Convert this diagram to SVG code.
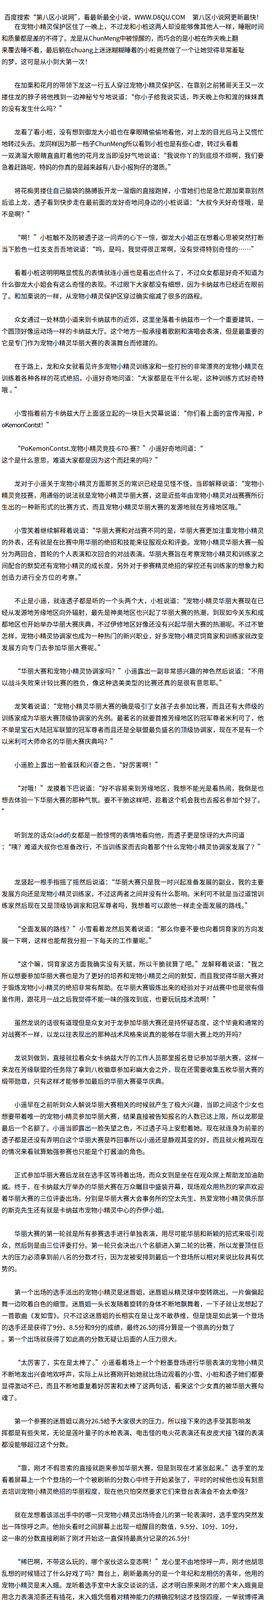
<svg xmlns="http://www.w3.org/2000/svg" width="700" height="4340" viewBox="0 0 700 4340">
<style>
.t{font-family:"Noto Sans CJK SC","Noto Sans",sans-serif;font-size:16.4px;fill:#000}
</style>
<rect width="700" height="4340" fill="#fff"/>
<g id="header-top">
<text class="t" x="11" y="49.5" textLength="464" lengthAdjust="spacing">百度搜索“第八区小说网”，看最新最全小说，WWW.D8QU.COM</text>
<text class="t" x="493" y="49.5" textLength="180" lengthAdjust="spacing">第八区小说网更新最快！</text>
</g>
<g id="p01">
<text class="t" x="36.8" y="74.3" textLength="639.6" lengthAdjust="spacing">在宠物小精灵保护区住了一晚上，不过龙和小桩这两人却没能够像其他人一样，睡眠时间</text>
<text class="t" x="4" y="104.3" textLength="606.8" lengthAdjust="spacing">和质量都是差的不得了。龙是从ChunMeng中被惊醒的，而巧合的是小桩在昨天晚上翻</text>
<text class="t" x="4" y="134.3" textLength="623.2" lengthAdjust="spacing">来覆去睡不着，最后躺在chuang上迷迷糊糊睡着的小桩竟然做了一个让她觉得非常羞耻</text>
<text class="t" x="4" y="164.3" textLength="229.6" lengthAdjust="spacing">的梦，这可是从小到大第一次！</text>
</g>
<g id="p02">
<text class="t" x="36.8" y="224.3" textLength="639.6" lengthAdjust="spacing">在加栗和花月的带领下龙这一行五人穿过宠物小精灵保护区，在靠别之前猪哥天王又一次</text>
<text class="t" x="4" y="254.3" textLength="672.4" lengthAdjust="spacing">搂住龙的脖子将他拽到一边神秘兮兮地说道：“你小子给我说实话，昨天晚上你和渡的妹妹真</text>
<text class="t" x="4" y="284.3" textLength="164" lengthAdjust="spacing">的没有发生什么吗？”</text>
</g>
<g id="p03">
<text class="t" x="36.8" y="344.3" textLength="639.6" lengthAdjust="spacing">龙看了看小桩，没有想到御龙大小姐也在拿眼睛偷偷地看他，对上龙的目光后马上又慌忙</text>
<text class="t" x="4" y="374.3" textLength="606.8" lengthAdjust="spacing">地转过头去。龙同样因为那一档子ChunMeng所以看到小桩也是有些心虚，转过头看着</text>
<text class="t" x="4" y="404.3" textLength="672.4" lengthAdjust="spacing">一双滴溜大眼睛直直盯着他的花月龙当即没好气地说道：“我说你丫的到底烦不烦啊，我们要</text>
<text class="t" x="4" y="434.3" textLength="442.8" lengthAdjust="spacing">急着赶路呢，特妈的你真的是越来越有八卦小报狗仔的潜质。”</text>
</g>
<g id="p04">
<text class="t" x="36.8" y="494.3" textLength="639.6" lengthAdjust="spacing">将花痴男搂住自己脑袋的胳膊扳开龙一溜烟的直接跑掉，小雪她们也是急忙跟加栗靠别然</text>
<text class="t" x="4" y="524.3" textLength="672.4" lengthAdjust="spacing">后追上龙，透子看到快步走在最前面的龙好奇地问身边的小桩说道：“大叔今天好奇怪哦，是</text>
<text class="t" x="4" y="554.3" textLength="82" lengthAdjust="spacing">不是啊？”</text>
</g>
<g id="p05">
<text class="t" x="36.8" y="614.3" textLength="639.6" lengthAdjust="spacing">“啊！”小桩触不及防被透子这一问弄的心下一惊，御龙大小姐正在想着心思被突然打断</text>
<text class="t" x="4" y="644.3" textLength="656" lengthAdjust="spacing">当下脸色一红支支吾吾地说道：“呜，是吗，我觉得很正常啊，没有觉得特别奇怪的……”</text>
</g>
<g id="p06">
<text class="t" x="36.8" y="704.3" textLength="639.6" lengthAdjust="spacing">看着小桩这明明略显慌乱的表情就连小遥也是看出点什么了，不过众女都是好奇不知道为</text>
<text class="t" x="4" y="734.3" textLength="672.4" lengthAdjust="spacing">什么御龙大小姐会有这么奇怪的表现。不过眼下大家都没有细想，因为卡纳兹市已经近在眼前</text>
<text class="t" x="4" y="764.3" textLength="524.8" lengthAdjust="spacing">了。和加栗说的一样，从宠物小精灵保护区穿过确实缩减了很多的路程。</text>
</g>
<g id="p07">
<text class="t" x="36.8" y="824.3" textLength="639.6" lengthAdjust="spacing">众女通过一处林荫小道来到卡纳兹市的近郊，这里坐落着卡纳兹市一个一个重要建筑，一</text>
<text class="t" x="4" y="854.3" textLength="672.4" lengthAdjust="spacing">个圆顶好像运动场一样的卡纳兹大厅。这个地方一般承接着歌剧和演唱会表演，但是最重要的</text>
<text class="t" x="4" y="884.3" textLength="410" lengthAdjust="spacing">它是专门作为宠物小精灵华丽大赛的表演舞台而修建的。</text>
</g>
<g id="p08">
<text class="t" x="36.8" y="944.3" textLength="639.6" lengthAdjust="spacing">在于路上，龙和众女就看见许多宠物小精灵训练家和一些打扮的非常漂亮的宠物小精灵在</text>
<text class="t" x="4" y="974.3" textLength="672.4" lengthAdjust="spacing">训练着各种各样的花式绝招，小遥好奇地问道：“大家都是在干什么呢，这种训练方式好奇特</text>
<text class="t" x="4" y="1004.3" textLength="49.2" lengthAdjust="spacing">哦。”</text>
</g>
<g id="p09">
<text class="t" x="36.8" y="1064.3" textLength="636" lengthAdjust="spacing">小雪指着前方卡纳兹大厅上面竖立起的一块巨大荧幕说道：“你们看上面的宣传海报，P</text>
<text class="t" x="4" y="1094.3" textLength="131.2" lengthAdjust="spacing">oKemonContst！”</text>
</g>
<g id="p10">
<text class="t" x="36.8" y="1154.3" textLength="483.8" lengthAdjust="spacing">“PoKemonContst.宠物小精灵竞技-670-赛？”小遥好奇地问道：“</text>
<text class="t" x="4" y="1184.3" textLength="410" lengthAdjust="spacing">这个是什么意思，难道大家都是因为这个而赶来的吗？”</text>
</g>
<g id="p11">
<text class="t" x="36.8" y="1244.3" textLength="639.6" lengthAdjust="spacing">龙对于小遥关于宠物小精灵方面那贫乏的常识已经是见怪不怪，当即解释说道：“宠物小</text>
<text class="t" x="4" y="1274.3" textLength="672.4" lengthAdjust="spacing">精灵竞技赛，用通俗的说法就是宠物小精灵华丽大赛，这是近些年由宠物小精灵对战赛赛所衍</text>
<text class="t" x="4" y="1304.3" textLength="623.2" lengthAdjust="spacing">生出的一种新形式的比赛方式，而且宠物小精灵华丽大赛的发源地就在芳缘地区哦。”</text>
</g>
<g id="p12">
<text class="t" x="36.8" y="1364.3" textLength="639.6" lengthAdjust="spacing">小雪笑着继续解释着说道：“华丽大赛和对战赛不同的是，华丽大赛更加注重宠物小精灵</text>
<text class="t" x="4" y="1394.3" textLength="672.4" lengthAdjust="spacing">的外表，还有就是在比赛中用华丽的绝招和技能来征服观众和评委。宠物小精灵华丽大赛一般</text>
<text class="t" x="4" y="1424.3" textLength="672.4" lengthAdjust="spacing">分为两回合，首轮的个人表演和次回合的对战表演。华丽大赛旨在考察宠物小精灵和训练家之</text>
<text class="t" x="4" y="1454.3" textLength="672.4" lengthAdjust="spacing">间配合的默契还有宠物小精灵的成长度，另外对于参赛精灵绝招的掌控还有训练家的想象力和</text>
<text class="t" x="4" y="1484.3" textLength="213.2" lengthAdjust="spacing">创造力进行全方位的考察。”</text>
</g>
<g id="p13">
<text class="t" x="36.8" y="1544.3" textLength="639.6" lengthAdjust="spacing">不止是小遥，就连透子都是听的一个头两个大，小桩说道：“宠物小精灵华丽大赛现在已</text>
<text class="t" x="4" y="1574.3" textLength="672.4" lengthAdjust="spacing">经从发源地芳缘地区向外辐射，最先是神奥地区也兴起了华丽大赛的热潮，到现如今关东和成</text>
<text class="t" x="4" y="1604.3" textLength="672.4" lengthAdjust="spacing">都地区也开始举办华丽大赛庆典，不过伊修地区好像还没有兴起华丽大赛的热潮呢。不过不管</text>
<text class="t" x="4" y="1634.3" textLength="672.4" lengthAdjust="spacing">怎样，宠物小精灵协调家也成为一种热门的新兴职业，好多宠物小精灵饲育家和训练家就改变</text>
<text class="t" x="4" y="1664.3" textLength="262.4" lengthAdjust="spacing">发展方向专门去参加华丽大赛呢。”</text>
</g>
<g id="p14">
<text class="t" x="36.8" y="1724.3" textLength="639.6" lengthAdjust="spacing">“华丽大赛和宠物小精灵协调家吗？”小遥露出一副非常感兴趣的神色然后说道：“不用</text>
<text class="t" x="4" y="1754.3" textLength="574" lengthAdjust="spacing">以战斗失败来计较比赛的胜负，像这种选美类型的比赛还真的是很有意思耶。”</text>
</g>
<g id="p15">
<text class="t" x="36.8" y="1814.3" textLength="639.6" lengthAdjust="spacing">龙笑着说道：“宠物小精灵华丽大赛的确是吸引了女孩子去参加比赛，而且还有大师级的</text>
<text class="t" x="4" y="1844.3" textLength="672.4" lengthAdjust="spacing">训练家成为华丽大赛顶级协调家的先例。最著名的就要首推芳缘地区的冠军尊者米利可了，他</text>
<text class="t" x="4" y="1874.3" textLength="672.4" lengthAdjust="spacing">不单是宝石大陆冠军联盟的冠军尊者而且还是全联盟最负盛名的顶级协调家，现在不是有一个</text>
<text class="t" x="4" y="1904.3" textLength="295.2" lengthAdjust="spacing">以米利可大师命名的华丽大赛庆典吗？”</text>
</g>
<g id="p16">
<text class="t" x="36.8" y="1964.3" textLength="377.2" lengthAdjust="spacing">小遥脸上露出一脸雀跃和兴奋之色，“好厉害啊！”</text>
</g>
<g id="p17">
<text class="t" x="36.8" y="2024.3" textLength="639.6" lengthAdjust="spacing">“对哦！”龙摸着下巴说道：“好不容易来到芳缘地区，我想不能光是看热闹，我倒是也</text>
<text class="t" x="4" y="2054.3" textLength="672.4" lengthAdjust="spacing">想去体验一下华丽大赛的那种气氛。要不干脆这样吧，趁着这个机会我也去报名参加个好了。</text>
<text class="t" x="4" y="2084.3">”</text>
</g>
<g id="p18">
<text class="t" x="36.8" y="2144.3" textLength="590.4" lengthAdjust="spacing">听到龙的话众(addf)女都是一脸惊愕的表情地看向他，而透子更是惊讶的大声问道</text>
<text class="t" x="4" y="2174.3" textLength="672.4" lengthAdjust="spacing">：“咦？难道大叔你也准备改行，不当训练家而去向着那个什么宠物小精灵协调家发展了？”</text>
</g>
<g id="p19">
<text class="t" x="36.8" y="2264.3" textLength="639.6" lengthAdjust="spacing">龙竖起一根手指摇了摇然后说道：“华丽大赛只是我一时兴起准备发展的副业，我的主要</text>
<text class="t" x="4" y="2294.3" textLength="672.4" lengthAdjust="spacing">发展方向还是宠物小精灵训练家，不过这两者之间并没有什么影响。米利可不就是当过道馆训</text>
<text class="t" x="4" y="2324.3" textLength="639.6" lengthAdjust="spacing">练家然后现在又是顶级协调家和冠军尊者吗，我想着可以跟他一样走全面发展的路线。”</text>
</g>
<g id="p20">
<text class="t" x="36.8" y="2384.3" textLength="639.6" lengthAdjust="spacing">“全面发展的路线？”小雪看着龙然后笑着说道：“那么你要不要也向着饲育家的方向发</text>
<text class="t" x="4" y="2414.3" textLength="393.6" lengthAdjust="spacing">展一下啊，这样也能帮我分担一下每天的工作量呢。”</text>
</g>
<g id="p21">
<text class="t" x="36.8" y="2474.3" textLength="639.6" lengthAdjust="spacing">“这个嘛，饲育家这方面我确实没有天赋，所以干脆就算了吧。”龙解释着说道：“我之</text>
<text class="t" x="4" y="2504.3" textLength="672.4" lengthAdjust="spacing">所以想要参加华丽大赛也是为了更好的培养和宠物小精灵之间的默契，而且我觉得华丽大赛对</text>
<text class="t" x="4" y="2534.3" textLength="672.4" lengthAdjust="spacing">于锻炼宠物小小精灵的绝招非常有帮助。在华丽大赛锻炼出来的经验对于对战赛中也是很有借</text>
<text class="t" x="4" y="2564.3" textLength="557.6" lengthAdjust="spacing">鉴作用，跟花月一战之后我觉得不能一味的强攻到底，也要玩玩技术流啊！”</text>
</g>
<g id="p22">
<text class="t" x="36.8" y="2624.3" textLength="639.6" lengthAdjust="spacing">虽然龙说的话很有道理但是众女对于龙参加华丽大赛还是持怀疑态度，这个毕竟和通常的</text>
<text class="t" x="4" y="2654.3" textLength="623.2" lengthAdjust="spacing">对战赛不一样，以龙以往表现出的那种战术风格来说真的能够在华丽大赛上吃的开吗？</text>
</g>
<g id="p23">
<text class="t" x="36.8" y="2714.3" textLength="639.6" lengthAdjust="spacing">龙说到做到，直接就拉着众女卡纳兹大厅的工作人员那里报名登记参加华丽大赛，这样一</text>
<text class="t" x="4" y="2744.3" textLength="672.4" lengthAdjust="spacing">来龙在芳缘联盟的任务除了拿到八枚徽章参加彩幽大会之外，现在还需要收集五枚华丽大赛的</text>
<text class="t" x="4" y="2774.3" textLength="426.4" lengthAdjust="spacing">缎带勋章，只有这样才能够参加最后的华丽大赛豪华庆典。</text>
</g>
<g id="p24">
<text class="t" x="36.8" y="2834.3" textLength="639.6" lengthAdjust="spacing">小遥早在之前听到众人解说华丽大赛相关的时候就产生了极大兴趣，当即之间这个少女也</text>
<text class="t" x="4" y="2864.3" textLength="672.4" lengthAdjust="spacing">想要带着唯一的宠物小精灵参加华丽大赛，结果直接被告知报名的人数已达上限，所以龙那是</text>
<text class="t" x="4" y="2894.3" textLength="672.4" lengthAdjust="spacing">最后一个名额了。小遥当即露出一脸失望之色，不过透子马上安慰着她。现在就连身为前辈的</text>
<text class="t" x="4" y="2924.3" textLength="672.4" lengthAdjust="spacing">透子都是还没有弄明白这个华丽大赛是咋回事所以小遥还是静观其变的好，而且就火稚鸡现在</text>
<text class="t" x="4" y="2954.3" textLength="377.2" lengthAdjust="spacing">的情况来看就算勉强参赛也只能是个打酱油的角色。</text>
</g>
<g id="p25">
<text class="t" x="36.8" y="3014.3" textLength="639.6" lengthAdjust="spacing">正式参加华丽大赛后龙就在选手区等待着出场，而众女则是坐在在观众席上帮助龙加油助</text>
<text class="t" x="4" y="3044.3" textLength="672.4" lengthAdjust="spacing">威。终于，在卡纳兹大厅举办的华丽大赛在万众瞩目中盛装开幕，现场观众用热烈的掌声欢迎</text>
<text class="t" x="4" y="3074.3" textLength="672.4" lengthAdjust="spacing">着华丽大赛的三位评委出场，分别是华丽大赛大会事务所的空太先生、热爱宠物小精灵俱乐部</text>
<text class="t" x="4" y="3104.3" textLength="426.4" lengthAdjust="spacing">的斯克先生还有就是卡纳兹市宠物小精灵中心的乔伊小姐。</text>
</g>
<g id="p26">
<text class="t" x="36.8" y="3164.3" textLength="639.6" lengthAdjust="spacing">华丽大赛的第一轮就是所有参赛选手进行单独表演，用尽可能华丽和新颖的招式来吸引观</text>
<text class="t" x="4" y="3194.3" textLength="672.4" lengthAdjust="spacing">众，然后则是由三位评委打分。第一轮只会决出八个名额进入第二轮的比赛，所以龙要顶住巨</text>
<text class="t" x="4" y="3224.3" textLength="672.4" lengthAdjust="spacing">大的压力必须拿到前八名的分数才行，因为龙被安排到最后一个登场所以相对来说比较具有优</text>
<text class="t" x="4" y="3254.3" textLength="49.2" lengthAdjust="spacing">势的。</text>
</g>
<g id="p27">
<text class="t" x="36.8" y="3314.3" textLength="639.6" lengthAdjust="spacing">第一个出场的选手派出的宠物小精灵是迷唇姐，迷唇姐从精灵球中旋转跳出，一片偏偏起</text>
<text class="t" x="4" y="3344.3" textLength="672.4" lengthAdjust="spacing">舞一边吹着白色的细雪。迷唇姐一头长发随着旋转的身体不断地飘舞着，一下子就让龙想起了</text>
<text class="t" x="4" y="3374.3" textLength="672.4" lengthAdjust="spacing">一首歌曲《发如雪》。只不过这迷唇姐的长相实在是让龙不敢恭维，但是饶是如此第一个登场</text>
<text class="t" x="4" y="3404.3" textLength="598.6" lengthAdjust="spacing">的选手还是获得了9分、8.5分和9分的成绩，最终26.5的得分算是一个很高的分数了</text>
<text class="t" x="4" y="3434.3" textLength="459.2" lengthAdjust="spacing">。第一个出场就获得了如此高的分数无疑让后面的人压力很大。</text>
</g>
<g id="p28">
<text class="t" x="36.8" y="3494.3" textLength="639.6" lengthAdjust="spacing">“太厉害了，实在是太棒了。”小遥看着场上一个个粉墨登场进行华丽表演的宠物小精灵</text>
<text class="t" x="4" y="3524.3" textLength="672.4" lengthAdjust="spacing">不断地发出兴奋地欢呼声，实际上从比赛刚开始她就比场边观看的小雪、小桩和透子她们都要</text>
<text class="t" x="4" y="3554.3" textLength="672.4" lengthAdjust="spacing">显得激动不已，而且不断地重复着好厉害和太棒了这两句话，看来这个少女真的被华丽大赛勾</text>
<text class="t" x="4" y="3584.3" textLength="49.2" lengthAdjust="spacing">魂了。</text>
</g>
<g id="p29">
<text class="t" x="36.8" y="3644.3" textLength="606.8" lengthAdjust="spacing">第一个参赛的迷唇姐以高分26.5给予大家很大的压力，所以接下来的选手受其影响发</text>
<text class="t" x="4" y="3674.3" textLength="672.4" lengthAdjust="spacing">挥都是有些失常，无论是莲叶童子的水枪表演、电击怪的电火花表演还有皮皮犬接飞碟的表演</text>
<text class="t" x="4" y="3704.3" textLength="180.4" lengthAdjust="spacing">都没能够超过这个分数。</text>
</g>
<g id="p30">
<text class="t" x="36.8" y="3764.3" textLength="639.6" lengthAdjust="spacing">“靠，刚才不假思索的直接就跑来参加华丽大赛，但是到现在才紧张起来。”选手室的龙</text>
<text class="t" x="4" y="3794.3" textLength="672.4" lengthAdjust="spacing">看着屏幕上一个个登场的一个个被刷新的分数心中终于开始紧张了，平时的时候他也没有刻意</text>
<text class="t" x="4" y="3824.3" textLength="639.6" lengthAdjust="spacing">去培训宠物小精灵绝招的华丽程度，现在他只怕突然要求它们来登台表演会不会太牵强？</text>
</g>
<g id="p31">
<text class="t" x="36.8" y="3884.3" textLength="639.6" lengthAdjust="spacing">就在龙想着该派出手中的哪一只宠物小精灵出场待会儿的第一轮表演时，选手室内突然发</text>
<text class="t" x="4" y="3914.3" textLength="615" lengthAdjust="spacing">出一阵惊呼之声。他抬头看时之间屏幕上出现一组醒目的数值，9.5分、10分、10分，</text>
<text class="t" x="4" y="3944.3" textLength="492" lengthAdjust="spacing">这一串的分数直接刷新了刚才开始这一直保持最高分记录的26.5分！</text>
</g>
<g id="p32">
<text class="t" x="36.8" y="4004.3" textLength="639.6" lengthAdjust="spacing">“稀巴啊，不带这么玩的，哪个家伙这么变态啊！”龙心里不由地惊呼一声，刚才他胡思</text>
<text class="t" x="4" y="4034.3" textLength="672.4" lengthAdjust="spacing">乱想的时候错过了什么好戏了吗？舞台上，刷新最高分的是一个年纪和龙相仿的青年，他用的</text>
<text class="t" x="4" y="4064.3" textLength="672.4" lengthAdjust="spacing">宠物小精灵是末入蛾。龙听着选手室中大家交谈说的话，这才明白原来刚才的那个末入蛾竟是</text>
<text class="t" x="4" y="4094.3" textLength="672.4" lengthAdjust="spacing">用念力表演沏茶还有插花，末入蛾凭借着对精神能力的精确控制这才技惊四座，一举就博得满</text>
<text class="t" x="4" y="4124.3" textLength="196.8" lengthAdjust="spacing">堂喝彩拿下了29.5的高分。</text>
</g>
<g id="p33">
<text class="t" x="36.8" y="4184.3" textLength="639.6" lengthAdjust="spacing">小遥依旧是太厉害了和太棒了的叫个不停歇，而透子也是一脸感叹地咂舌说道：“看来这</text>
<text class="t" x="4" y="4214.3" textLength="246" lengthAdjust="spacing">个华丽大赛也ting不简单的嘛。”</text>
</g>
<g id="header-bottom">
<text class="t" x="11" y="4305" textLength="464" lengthAdjust="spacing">百度搜索“第八区小说网”，看最新最全小说，WWW.D8QU.COM</text>
<text class="t" x="493" y="4305" textLength="180" lengthAdjust="spacing">第八区小说网更新最快！</text>
</g>
</svg>
